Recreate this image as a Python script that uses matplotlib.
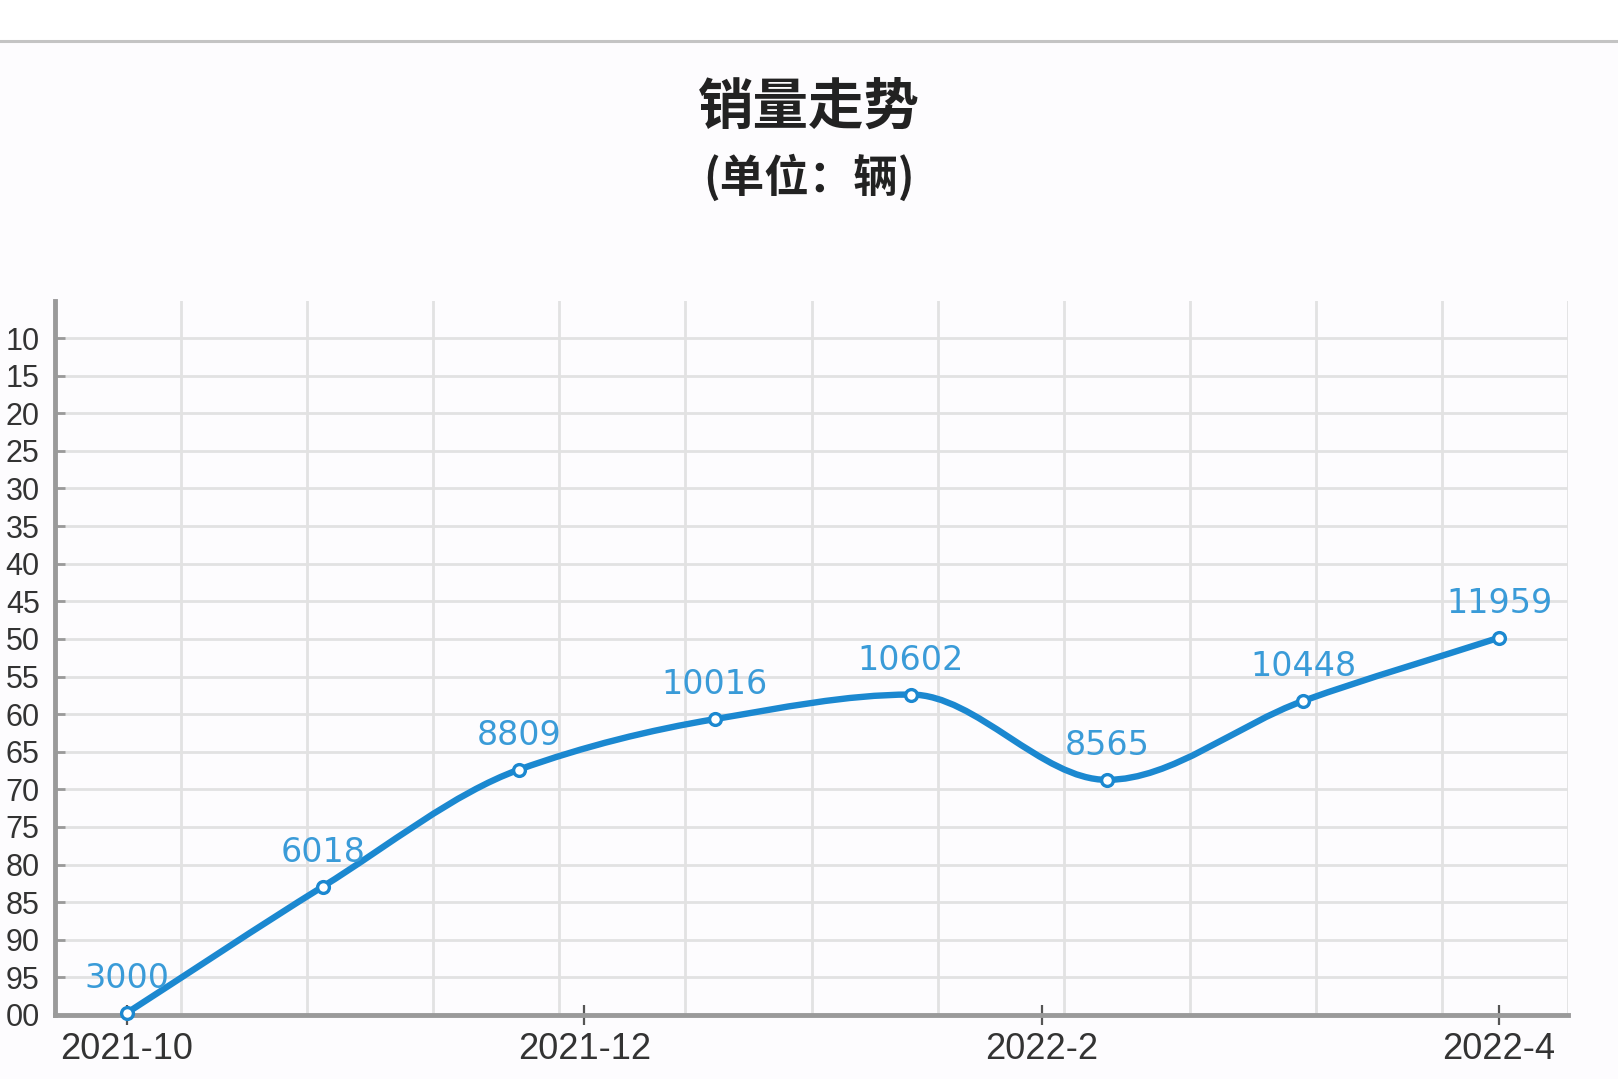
"""Sales trend line chart (销量走势)."""
import matplotlib
matplotlib.use("Agg")
import matplotlib.pyplot as plt
from matplotlib.path import Path
from matplotlib.patches import PathPatch, Rectangle
from matplotlib.lines import Line2D
import numpy as np

# data
sales = [3000, 6018, 8809, 10016, 10602, 8565, 10448, 11959]
x_tick_labels = ["2021-10", "2021-12", "2022-2", "2022-4"]
# left axis labels as they show (the rest is cut off in the source picture)
y_tick_labels = ["00", "95", "90", "85", "80", "75", "70", "65", "60", "55",
                 "50", "45", "40", "35", "30", "25", "20", "15", "10"]

LINE_BLUE = "#1b88d0"
LABEL_BLUE = "#3a9bd8"
GRID = "#e2e2e2"
AXIS_GREY = "#9a9a9a"
TEXT = "#333333"

plt.rcParams['font.family'] = ['Liberation Sans', 'DejaVu Sans']

fig = plt.figure(figsize=(16.18, 10.79), dpi=100, facecolor="#fdfcfe")
H = 1079.0
W = 1618.0

# white band and line at the very top
fig.add_artist(Rectangle((0, 1 - 41 / H), 1, 41 / H, transform=fig.transFigure,
                         facecolor="white", edgecolor="none"))
fig.add_artist(Line2D([0, 1], [1 - 41 / H] * 2, transform=fig.transFigure,
                      color="#c4c4c4", lw=2.2))

fig.text(0.5, 1 - 108 / H, "销量走势", ha="center", va="center",
         fontsize=40, fontweight="bold", color="#222222",
         family=["Noto Sans CJK SC", "DejaVu Sans"])
fig.text(0.5, 1 - 178 / H, "(单位：辆)", ha="center", va="center",
         fontsize=32, fontweight="bold", color="#222222",
         family=["Noto Sans CJK SC", "DejaVu Sans"])

left, right = 55 / W, 1568 / W
bottom, top = 1 - 1015 / H, 1 - 301 / H
ax = fig.add_axes([left, bottom, right - left, top - bottom])
ax.set_facecolor("none")

n = len(sales)
xs = np.arange(n)
ax.set_xlim(-0.367, n - 1 + 0.352)
# label axis: one step per label, top edge a little above the last label
steps = np.arange(len(y_tick_labels))
ax.set_ylim(0, len(y_tick_labels) - 1 + 0.985)
ax.set_yticks(steps, y_tick_labels)
ax.tick_params(axis="y", direction="in", length=7, width=2, color=AXIS_GREY,
               labelsize=22, labelcolor=TEXT, pad=11)
ax.set_xticks(np.linspace(0, n - 1, len(x_tick_labels)), x_tick_labels)
ax.tick_params(axis="x", direction="inout", length=14, width=1.6,
               color="#555555", labelsize=26, labelcolor=TEXT, pad=5)
xl = ax.get_xlim()
ax.set_xticks(np.linspace(xl[0], xl[1], 13), minor=True)
ax.tick_params(axis="x", which="minor", length=0)
ax.grid(True, axis="y", which="major", color=GRID, lw=2)
ax.grid(True, axis="x", which="minor", color=GRID, lw=2)
ax.grid(False, axis="x", which="major")
for s in ["top", "right"]:
    ax.spines[s].set_visible(False)
for s in ["left", "bottom"]:
    ax.spines[s].set_color(AXIS_GREY)
    ax.spines[s].set_linewidth(3.5)

# data axis
axd = ax.twinx()
axd.set_ylim(2950, 20000)
axd.set_yticks([])
for s in axd.spines.values():
    s.set_visible(False)

# smooth (monotone) curve through the points
ys = np.array(sales, dtype=float)
d = np.diff(ys)
m = np.zeros(n)
m[0], m[-1] = d[0], d[-1]
for i in range(1, n - 1):
    if d[i - 1] * d[i] > 0:
        m[i] = 2 * d[i - 1] * d[i] / (d[i - 1] + d[i])
verts = [(xs[0], ys[0])]
codes = [Path.MOVETO]
for i in range(n - 1):
    verts += [(xs[i] + 1 / 3, ys[i] + m[i] / 3),
              (xs[i + 1] - 1 / 3, ys[i + 1] - m[i + 1] / 3),
              (xs[i + 1], ys[i + 1])]
    codes += [Path.CURVE4] * 3
axd.add_patch(PathPatch(Path(verts, codes), facecolor="none",
                        edgecolor=LINE_BLUE, lw=4.6, capstyle="round",
                        clip_on=False))
axd.plot(xs, ys, linestyle="none", marker="o", markersize=8.5,
         markerfacecolor="white", markeredgecolor=LINE_BLUE,
         markeredgewidth=2.4, clip_on=False, zorder=3)

for x, y in zip(xs, sales):
    axd.annotate(str(y), (x, y), xytext=(0, 18), textcoords="offset points",
                 ha="center", va="baseline", fontsize=24, color=LABEL_BLUE,
                 family="DejaVu Sans")

fig.savefig("out.png", dpi=100, facecolor=fig.get_facecolor())
